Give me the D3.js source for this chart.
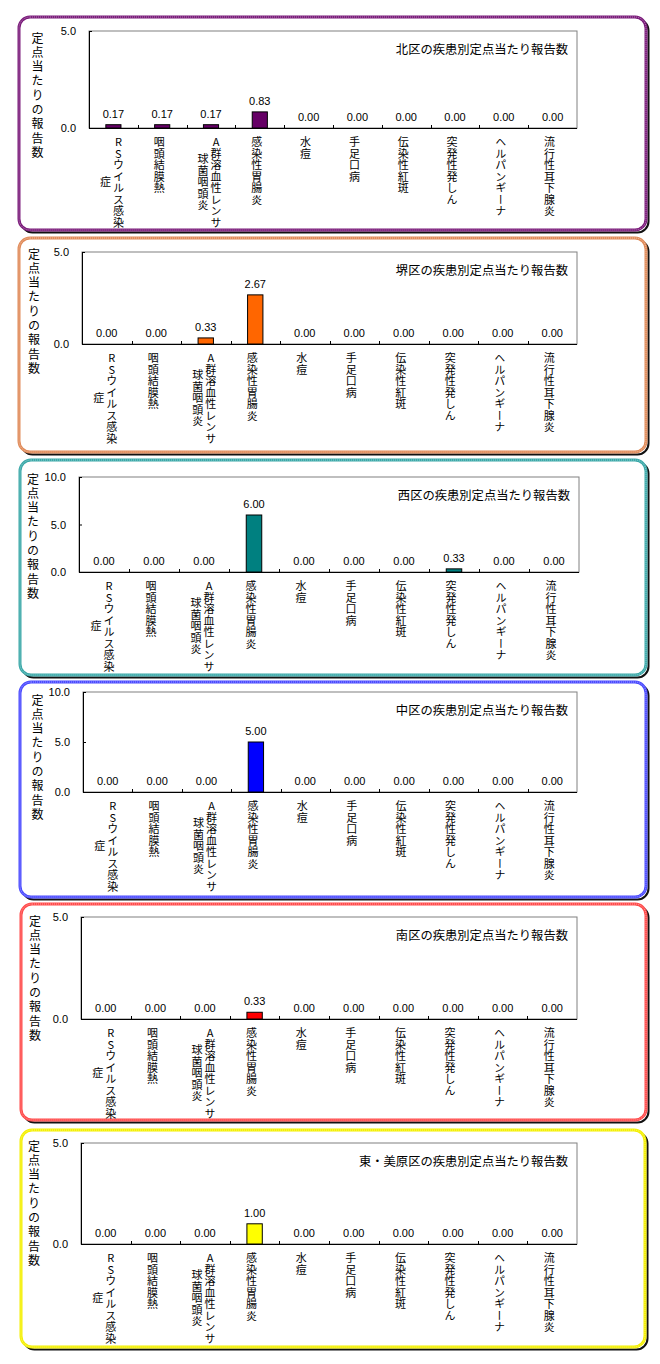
<!DOCTYPE html>
<html><head><meta charset="utf-8">
<script src="https://cdn.jsdelivr.net/npm/d3@7"></script>
<style>
html,body{margin:0;padding:0;background:#fff;}
svg{display:block;}
text.vert{writing-mode:vertical-rl;text-orientation:upright;}
</style></head><body>
<svg id="c" width="660" height="1364"></svg>
<script>
// ---------- DATA ----------
const categories = ["RSウイルス感染症","咽頭結膜熱","A群溶血性レンサ球菌咽頭炎","感染性胃腸炎","水痘","手足口病","伝染性紅斑","突発性発しん","ヘルパンギーナ","流行性耳下腺炎"];
const categoryLines = [["RSウイルス感染","症"],["咽頭結膜熱"],["A群溶血性レンサ","球菌咽頭炎"],["感染性胃腸炎"],["水痘"],["手足口病"],["伝染性紅斑"],["突発性発しん"],["ヘルパンギーナ"],["流行性耳下腺炎"]];
const districts = ["北区","堺区","西区","中区","南区","東・美原区"];
const kitaValues = [0.17,0.17,0.17,0.83,0,0,0,0,0,0];
const sakaiValues = [0,0,0.33,2.67,0,0,0,0,0,0];
const nishiValues = [0,0,0,6.00,0,0,0,0.33,0,0];
const nakaValues = [0,0,0,5.00,0,0,0,0,0,0];
const minamiValues = [0,0,0,0.33,0,0,0,0,0,0];
const higashiMiharaValues = [0,0,0,1.00,0,0,0,0,0,0];
const yTicksSmall = [0,5];
const yTicksLarge = [0,5,10];
const yAxisTitle = "定点当たりの報告数";
const titleSuffix = "の疾患別定点当たり報告数";

// ---------- LAYOUT ----------
const panels = [
  {name:districts[0], values:kitaValues, ticks:yTicksSmall, box:[19,17,646,230], plot:[89,31,577,128], bar:"#660066", border:"#7a1a7a", lx:37.5, ly:38},
  {name:districts[1], values:sakaiValues, ticks:yTicksSmall, box:[19,238,646,452], plot:[82,252,577,344], bar:"#ff6600", border:"#e08a58", lx:34, ly:254},
  {name:districts[2], values:nishiValues, ticks:yTicksLarge, box:[20,460,646,675], plot:[79,477,579,572], bar:"#008080", border:"#3aa8a8", lx:33, ly:479},
  {name:districts[3], values:nakaValues, ticks:yTicksLarge, box:[20,682,646,897], plot:[83,692,577,792], bar:"#0000ff", border:"#4a4aff", lx:37.5, ly:700},
  {name:districts[4], values:minamiValues, ticks:yTicksSmall, box:[21,904,646,1120], plot:[81,917,577,1019], bar:"#ff0000", border:"#ff4a4a", lx:35, ly:921},
  {name:districts[5], values:higashiMiharaValues, ticks:yTicksSmall, box:[21,1130,645,1347], plot:[81,1143,577,1244], bar:"#ffff00", border:"#f4f000", lx:34, ly:1146}
];

const svg = d3.select("#c");
const jp = "'Noto Sans CJK JP','Noto Sans',sans-serif";
const num = "'Liberation Sans',Arial,sans-serif";

panels.forEach(p => {
  const [x0,y0,x1,y1] = p.box;
  const [L,T,R,B] = p.plot;
  const g = svg.append("g");

  // frame with shadow
  g.append("rect").attr("x",x0+2.5).attr("y",y0+2.5).attr("width",x1-x0).attr("height",y1-y0)
    .attr("rx",11).attr("fill","none").attr("stroke","#111").attr("stroke-width",2);
  g.append("rect").attr("x",x0).attr("y",y0).attr("width",x1-x0).attr("height",y1-y0)
    .attr("rx",11).attr("fill","#fff").attr("stroke",p.border).attr("stroke-width",3);
  g.append("rect").attr("x",x0).attr("y",y0).attr("width",x1-x0).attr("height",y1-y0)
    .attr("rx",11).attr("fill","none").attr("stroke","#fff").attr("stroke-opacity",0.45)
    .attr("stroke-width",1).attr("stroke-dasharray","1 1");

  const ymax = d3.max(p.ticks);
  const x = d3.scaleBand().domain(categories).range([L,R]).padding(0);
  const y = d3.scaleLinear().domain([0,ymax]).range([B,T]);
  const bw = x.bandwidth();

  // plot area border (gray)
  g.append("rect").attr("x",L).attr("y",T).attr("width",R-L).attr("height",B-T)
    .attr("fill","none").attr("stroke","#808080").attr("stroke-width",1);

  // bars
  const barW = bw*0.31;
  g.selectAll("rect.bar").data(p.values).join("rect").attr("class","bar")
    .attr("x",(d,i)=>x(categories[i])+bw/2-barW/2)
    .attr("y",d=>y(d))
    .attr("width",barW)
    .attr("height",d=>B-y(d))
    .attr("fill",p.bar).attr("stroke","#000").attr("stroke-width",1);

  // value labels
  g.selectAll("text.val").data(p.values).join("text").attr("class","val")
    .attr("x",(d,i)=>x(categories[i])+bw/2)
    .attr("y",d=>y(d)-7)
    .attr("text-anchor","middle")
    .attr("font-family",num).attr("font-size",11).attr("fill","#000")
    .text(d=>d3.format(".2f")(d));

  // y axis
  const ya = g.append("g").attr("transform",`translate(${L},0)`)
    .call(d3.axisLeft(y).tickValues(p.ticks).tickFormat(d3.format(".1f")).tickSizeInner(-3).tickSizeOuter(0).tickPadding(13));
  ya.select(".domain").attr("stroke","#000");
  ya.selectAll(".tick line").attr("stroke","#000");
  ya.selectAll(".tick text").attr("font-family",num).attr("font-size",11).attr("fill","#000");

  // x axis line + boundary ticks
  g.append("line").attr("x1",L).attr("x2",R).attr("y1",B+0.5).attr("y2",B+0.5).attr("stroke","#000");
  const bounds = categories.slice(1).map(c=>x(c));
  g.selectAll("line.xt").data(bounds).join("line").attr("class","xt")
    .attr("x1",d=>Math.round(d)+0.5).attr("x2",d=>Math.round(d)+0.5)
    .attr("y1",B).attr("y2",B-3).attr("stroke","#000");

  // category labels (vertical writing, columns right-to-left)
  categoryLines.forEach((lines,i) => {
    const cx = x(categories[i]) + bw/2;
    const n0 = Array.from(lines[0]).length;
    const sp0 = n0 > 8 ? 10 : 11.5;
    const firstC = B + 14;
    const blockC = firstC + (n0-1)*sp0/2;
    const t = g.append("text").attr("class","vert")
      .attr("font-family",jp).attr("font-size",11).attr("fill","#000");
    lines.forEach((line,li) => {
      const n = Array.from(line).length;
      const sp = n > 8 ? 10 : 11.5;
      const colX = lines.length === 1 ? cx-3 : (li===0 ? cx+5 : cx-8);
      const startC = li===0 ? firstC : blockC - (n-1)*sp/2;
      t.append("tspan").attr("x",colX).attr("y",startC - 5.5)
        .style("letter-spacing",(sp-11)+"px").text(line);
    });
  });

  // y axis title (vertical)
  g.append("text").attr("class","vert")
    .attr("x",p.lx).attr("y",p.ly - 6)
    .attr("font-family",jp).attr("font-size",12).attr("fill","#000")
    .style("letter-spacing","2.3px")
    .text(yAxisTitle);

  // chart title
  g.append("text").attr("x",R-9).attr("y",T+18)
    .attr("text-anchor","end").attr("dominant-baseline","central")
    .attr("font-family",jp).attr("font-size",12.3).attr("fill","#000")
    .text(p.name + titleSuffix);
});
</script>
</body></html>
